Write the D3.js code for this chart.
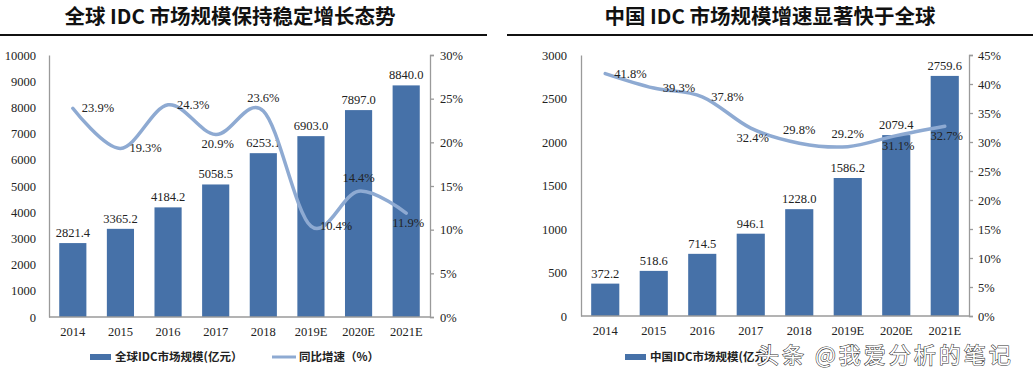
<!DOCTYPE html>
<html>
<head>
<meta charset="utf-8">
<script src="https://cdn.jsdelivr.net/npm/d3@7"></script>
<style>
  body { margin: 0; background: #fff; }
  svg { display: block; }
  .axis text { font-family: "Liberation Serif", serif; font-size: 12.5px; fill: #222; }
  .axis path, .axis line { stroke: #9a9a9a; stroke-width: 1.3; }
  .label { font-family: "Liberation Serif", serif; font-size: 12.5px; fill: #222; }
  .title { font-family: "Noto Sans CJK SC", sans-serif; font-weight: 700; font-size: 20.5px; fill: #111; }
  .legend text { font-family: "Noto Sans CJK SC", sans-serif; font-weight: 700; font-size: 11.5px; fill: #222; }
</style>
</head>
<body>
<script>
const years = ['2014', '2015', '2016', '2017', '2018', '2019E', '2020E', '2021E'];

const globalSize = [2821.4, 3365.2, 4184.2, 5058.5, 6253.1, 6903.0, 7897.0, 8840.0];
const globalGrowth = [23.9, 19.3, 24.3, 20.9, 23.6, 10.4, 14.4, 11.9];
const globalSizeTicks = [0, 1000, 2000, 3000, 4000, 5000, 6000, 7000, 8000, 9000, 10000];
const globalGrowthTicks = [0, 5, 10, 15, 20, 25, 30];
const globalGrowthPos = ['right', 'right', 'right', 'below', 'above', 'right', 'above', 'below'];

const chinaSize = [372.2, 518.6, 714.5, 946.1, 1228.0, 1586.2, 2079.4, 2759.6];
const chinaGrowth = [41.8, 39.3, 37.8, 32.4, 29.8, 29.2, 31.1, 32.7];
const chinaSizeTicks = [0, 500, 1000, 1500, 2000, 2500, 3000];
const chinaGrowthTicks = [0, 5, 10, 15, 20, 25, 30, 35, 40, 45];
const chinaGrowthPos = ['right', 'right', 'right', 'below', 'above', 'above', 'below', 'below'];

const W = 1033, H = 377;
const barColor = '#4671a8';
const lineColor = '#8eaad2';

const svg = d3.select('body').append('svg')
  .attr('width', W)
  .attr('height', H);

function drawPanel(opts) {
  const g = svg.append('g');

  // title + rule underneath
  g.append('text')
    .attr('class', 'title')
    .attr('x', opts.titleX)
    .attr('y', 24)
    .attr('text-anchor', 'middle')
    .text(opts.title);
  g.append('line')
    .attr('x1', opts.ruleX[0]).attr('x2', opts.ruleX[1])
    .attr('y1', 35).attr('y2', 35)
    .attr('stroke', '#111')
    .attr('stroke-width', 2);

  const x = d3.scaleBand()
    .domain(years)
    .range([opts.left, opts.right])
    .paddingInner(opts.pad)
    .paddingOuter(opts.pad / 2);

  const y = d3.scaleLinear()
    .domain([0, d3.max(opts.sizeTicks)])
    .range([opts.bottom, opts.top]);

  const y2 = d3.scaleLinear()
    .domain([0, d3.max(opts.growthTicks)])
    .range([opts.bottom, opts.top]);

  // bars
  g.selectAll('.bar')
    .data(opts.size)
    .enter()
    .append('rect')
    .attr('class', 'bar')
    .attr('x', (d, i) => x(years[i]))
    .attr('y', d => y(d))
    .attr('width', x.bandwidth())
    .attr('height', d => y(0) - y(d))
    .attr('fill', barColor);

  g.selectAll('.barlabel')
    .data(opts.size)
    .enter()
    .append('text')
    .attr('class', 'label')
    .attr('x', (d, i) => x(years[i]) + x.bandwidth() / 2)
    .attr('y', d => y(d) - 6)
    .attr('text-anchor', 'middle')
    .text(d => d.toFixed(1));

  // axes
  g.append('g')
    .attr('class', 'axis')
    .attr('transform', `translate(${opts.left},0)`)
    .call(d3.axisLeft(y).tickValues(opts.sizeTicks).tickSize(0).tickPadding(opts.leftPad).tickFormat(d3.format('d')));

  g.append('g')
    .attr('class', 'axis')
    .attr('transform', `translate(${opts.right},0)`)
    .call(d3.axisRight(y2).tickValues(opts.growthTicks).tickSize(4).tickPadding(opts.rightPad).tickFormat(d => d + '%'));

  const xAxis = g.append('g')
    .attr('class', 'axis')
    .attr('transform', `translate(0,${opts.bottom})`)
    .call(d3.axisBottom(x).tickSize(0).tickPadding(10));
  xAxis.select('.domain').attr('d', `M${opts.left},0H${opts.right}`);

  // growth line
  const cx = i => x(years[i]) + x.bandwidth() / 2;
  const line = d3.line()
    .x((d, i) => cx(i))
    .y(d => y2(d))
    .curve(d3.curveCardinal.tension(0));

  g.append('path')
    .datum(opts.growth)
    .attr('d', line)
    .attr('fill', 'none')
    .attr('stroke', lineColor)
    .attr('stroke-width', 3.5)
    .attr('stroke-linecap', 'round');

  const offsets = {
    right: { dx: 9, dy: 4, anchor: 'start' },
    above: { dx: 0, dy: -9, anchor: 'middle' },
    below: { dx: 2, dy: 14, anchor: 'middle' }
  };

  g.selectAll('.growthlabel')
    .data(opts.growth)
    .enter()
    .append('text')
    .attr('class', 'label')
    .attr('x', (d, i) => cx(i) + offsets[opts.growthPos[i]].dx)
    .attr('y', d => y2(d))
    .attr('dy', (d, i) => offsets[opts.growthPos[i]].dy)
    .attr('text-anchor', (d, i) => offsets[opts.growthPos[i]].anchor)
    .text(d => d.toFixed(1) + '%');

  // legend
  const legend = g.append('g').attr('class', 'legend');
  legend.append('rect')
    .attr('x', opts.legendX)
    .attr('y', 354)
    .attr('width', 21)
    .attr('height', 6)
    .attr('fill', barColor);
  legend.append('text')
    .attr('x', opts.legendX + 25)
    .attr('y', 361)
    .text(opts.sizeName);

  if (opts.growthName) {
    legend.append('line')
      .attr('x1', opts.legendX + 182).attr('x2', opts.legendX + 206)
      .attr('y1', 357).attr('y2', 357)
      .attr('stroke', lineColor)
      .attr('stroke-width', 3);
    legend.append('text')
      .attr('x', opts.legendX + 209)
      .attr('y', 361)
      .text(opts.growthName);
  }
}

drawPanel({
  title: '全球 IDC 市场规模保持稳定增长态势',
  titleX: 230,
  ruleX: [0, 487],
  left: 49, right: 430, top: 55, bottom: 317,
  pad: 0.43, leftPad: 13, rightPad: 6,
  size: globalSize, growth: globalGrowth,
  sizeTicks: globalSizeTicks, growthTicks: globalGrowthTicks,
  growthPos: globalGrowthPos,
  legendX: 90,
  sizeName: '全球IDC市场规模(亿元）',
  growthName: '同比增速（%）'
});

drawPanel({
  title: '中国 IDC 市场规模增速显著快于全球',
  titleX: 770,
  ruleX: [507, 1033],
  left: 581, right: 969, top: 55, bottom: 316,
  pad: 0.42, leftPad: 14, rightPad: 5,
  size: chinaSize, growth: chinaGrowth,
  sizeTicks: chinaSizeTicks, growthTicks: chinaGrowthTicks,
  growthPos: chinaGrowthPos,
  legendX: 625,
  sizeName: '中国IDC市场规模(亿元）',
  growthName: null
});

// watermark
svg.append('text')
  .attr('x', 757)
  .attr('y', 363)
  .style('font-family', '"Noto Sans CJK SC", sans-serif')
  .style('font-size', '22px')
  .style('letter-spacing', '3px')
  .attr('fill', '#fff')
  .attr('stroke', '#333')
  .attr('stroke-width', 1.1)
  .attr('paint-order', 'stroke')
  .text('头条 @我爱分析的笔记');
</script>
</body>
</html>
